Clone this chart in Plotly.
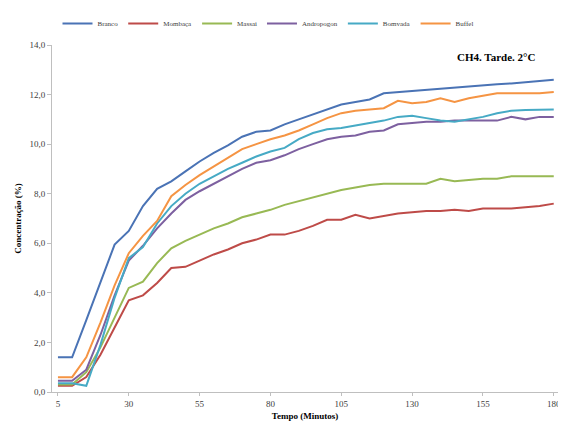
import plotly.graph_objects as go

minutes = list(range(5, 181, 5))
tick_vals = [5, 30, 55, 80, 105, 130, 155, 180]
tick_text = ["5", "30", "55", "80", "105", "130", "155", "180"]
y_ticks = [0, 2, 4, 6, 8, 10, 12, 14]
y_tick_text = ["0,0", "2,0", "4,0", "6,0", "8,0", "10,0", "12,0", "14,0"]

branco = [1.4, 1.4, 2.9, 4.4, 5.95, 6.5, 7.5, 8.2, 8.5, 8.9, 9.3, 9.65, 9.95, 10.3, 10.5, 10.55,
          10.8, 11.0, 11.2, 11.4, 11.6, 11.7, 11.8, 12.05, 12.1, 12.15, 12.2, 12.25, 12.3, 12.35,
          12.4, 12.42, 12.45, 12.5, 12.55, 12.6]
mombaca = [0.25, 0.25, 0.6, 1.5, 2.6, 3.7, 3.9, 4.4, 5.0, 5.05, 5.3, 5.55, 5.75, 6.0, 6.15, 6.35,
           6.35, 6.5, 6.7, 6.95, 6.95, 7.15, 7.0, 7.1, 7.2, 7.25, 7.3, 7.3, 7.35, 7.3, 7.4, 7.4,
           7.4, 7.45, 7.5, 7.6]
massai = [0.3, 0.3, 0.8, 1.8, 3.0, 4.2, 4.45, 5.2, 5.8, 6.1, 6.35, 6.6, 6.8, 7.05, 7.2, 7.35,
          7.55, 7.7, 7.85, 8.0, 8.15, 8.25, 8.35, 8.4, 8.4, 8.4, 8.4, 8.6, 8.5, 8.55, 8.6, 8.6,
          8.7, 8.7, 8.7, 8.7]
andropogon = [0.45, 0.45, 0.9, 2.3, 3.9, 5.3, 5.9, 6.6, 7.2, 7.75, 8.1, 8.4, 8.7, 9.0, 9.25,
              9.35, 9.55, 9.8, 10.0, 10.2, 10.3, 10.35, 10.5, 10.55, 10.8, 10.85, 10.9, 10.9,
              10.95, 10.95, 10.95, 10.95, 11.1, 11.0, 11.1, 11.1]
bomvada = [0.35, 0.35, 0.25, 1.9, 3.8, 5.4, 5.85, 6.8, 7.5, 8.0, 8.4, 8.7, 9.0, 9.25, 9.5, 9.7,
           9.85, 10.2, 10.45, 10.6, 10.65, 10.75, 10.85, 10.95, 11.1, 11.15, 11.05, 10.95, 10.9,
           11.0, 11.1, 11.25, 11.35, 11.38, 11.4, 11.4]
buffel = [0.6, 0.6, 1.4, 2.8, 4.3, 5.6, 6.3, 6.9, 7.9, 8.35, 8.75, 9.1, 9.45, 9.8, 10.0, 10.2,
          10.35, 10.55, 10.8, 11.05, 11.25, 11.35, 11.4, 11.45, 11.75, 11.65, 11.7, 11.85, 11.7,
          11.85, 11.95, 12.05, 12.05, 12.05, 12.05, 12.1]

series = [
    ("Branco", branco, "#4A73B5"),
    ("Mombaça", mombaca, "#BE4B48"),
    ("Massai", massai, "#98B954"),
    ("Andropogon", andropogon, "#7D60A0"),
    ("Bomvada", bomvada, "#46AAC5"),
    ("Buffel", buffel, "#F59443"),
]

serif = "Liberation Serif, Times New Roman, serif"

# page body has an 8px margin; figure is sized to fill the rest of the window
OFF = 8
W, H = 566 - OFF, 429 - OFF
ML, MR, MT, MB = 52 - OFF, 8, 45 - OFF, 37
plot_w = W - ML - MR
plot_h = H - MT - MB

fig = go.Figure()
for name, vals, color in series:
    fig.add_trace(go.Scatter(x=minutes, y=vals, mode="lines", name=name,
                             line=dict(color=color, width=2)))

fig.update_layout(
    width=W, height=H,
    margin=dict(l=ML, r=MR, t=MT, b=MB, autoexpand=False),
    plot_bgcolor="white", paper_bgcolor="white",
    font=dict(family=serif, size=9, color="#404040"),
    legend=dict(orientation="h", x=(268 - 52) / plot_w, xanchor="center",
                y=1 + (45 - 9) / plot_h, yanchor="top",
                font=dict(size=7, family=serif, color="#404040"),
                itemwidth=30, tracegroupgap=0),
    showlegend=True,
    annotations=[
        dict(text="<b>CH4. Tarde. 2°C</b>", x=(537 - 52) / plot_w, xref="paper", xanchor="right",
             y=1 - (57 - 45) / plot_h, yref="paper", yanchor="middle", showarrow=False,
             font=dict(size=11, family=serif, color="#000")),
    ],
)

fig.update_xaxes(
    range=[2.9, 181.5], tickvals=tick_vals, ticktext=tick_text,
    showgrid=False, zeroline=False, showline=True, linecolor="#BFBFBF", linewidth=1,
    ticks="outside", ticklen=3, tickcolor="#BFBFBF", ticklabeloverflow="allow",
    tickfont=dict(size=9, family=serif, color="#404040"),
    title=dict(text="<b>Tempo (Minutos)</b>", font=dict(size=9, family=serif, color="#000"),
               standoff=4),
)
fig.update_yaxes(
    range=[0, 14], tickvals=y_ticks, ticktext=y_tick_text,
    showgrid=False, zeroline=False, showline=True, linecolor="#BFBFBF", linewidth=1,
    ticks="outside", ticklen=4, tickcolor="#BFBFBF",
    tickfont=dict(size=9, family=serif, color="#404040"),
    title=dict(text="<b>Concentração (%)</b>", font=dict(size=9, family=serif, color="#000"),
               standoff=6),
)

fig.write_html("out.html")
